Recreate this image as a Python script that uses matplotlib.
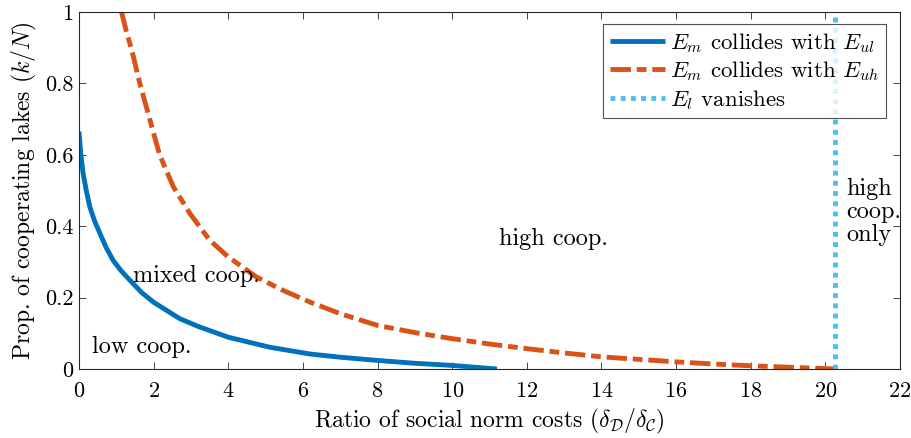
"""Plot cooperation regimes against the ratio of social norm costs."""

import matplotlib
matplotlib.use('Agg')
import matplotlib.pyplot as plt

# boundary where E_m collides with E_ul
ratio_ul = [0, 0.05, 0.11, 0.2, 0.29, 0.42, 0.56, 0.72, 0.91, 1.13, 1.37,
            1.68, 2, 2.7, 3.2, 4, 5.11, 6.19, 7, 8, 9, 10, 10.6, 11.2]
prop_ul = [0.665, 0.6, 0.548, 0.497, 0.454, 0.414, 0.38, 0.342, 0.305,
           0.275, 0.248, 0.214, 0.187, 0.141, 0.119, 0.089, 0.061, 0.042,
           0.033, 0.024, 0.016, 0.01, 0.005, 0.0]

# boundary where E_m collides with E_uh
ratio_uh = [1.14, 1.27, 1.41, 1.63, 1.9, 2.16, 2.53, 2.97, 3.5, 4, 4.75,
            5.47, 6.2, 7, 8, 9, 10, 11, 12, 13, 14, 15, 16, 17, 18, 19,
            20.27]
prop_uh = [1.0, 0.945, 0.895, 0.8, 0.698, 0.6, 0.51, 0.436, 0.361, 0.314,
           0.258, 0.22, 0.187, 0.155, 0.122, 0.102, 0.085, 0.07, 0.057,
           0.045, 0.034, 0.027, 0.02, 0.014, 0.009, 0.005, 0.0]

# ratio above which E_l vanishes
ratio_l = 20.25

xticks = list(range(0, 23, 2))
yticks = [0, 0.2, 0.4, 0.6, 0.8, 1]
ytick_labels = ['0', '0.2', '0.4', '0.6', '0.8', '1']


def main():
    """Main program called during execution."""

    plt.rcParams.update({
        'font.family': 'serif',
        'font.serif': ['cmr10'],
        'mathtext.fontset': 'cm',
        'axes.formatter.use_mathtext': True,
        'font.size': 16})

    # initialize figure
    fig = plt.figure(figsize=(9.12, 4.38), dpi=100)
    ax = fig.add_axes([79/912, 69/438, 821/912, 357/438])
    axcolor = '#262626'

    # plot boundaries
    ax.plot(ratio_ul, prop_ul, color='#0072BD', lw=3.5,
            solid_capstyle='butt', solid_joinstyle='round',
            label=r'$E_m$ collides with $E_{ul}$')
    ax.plot(ratio_uh, prop_uh, color='#D95319', lw=3.5,
            dashes=(4.2, 1.2, 2.0, 1.2), dash_capstyle='butt',
            dash_joinstyle='round',
            label=r'$E_m$ collides with $E_{uh}$')
    ax.plot([ratio_l, ratio_l], [0, 1], color='#4DBEEE', lw=3.5,
            dashes=(1, 1.1), dash_capstyle='butt',
            label=r'$E_l$ vanishes')

    # label regions
    textkw = dict(fontsize=17.5, va='center')
    ax.text(0.35, 0.062, 'low coop.', **textkw)
    ax.text(1.45, 0.262, 'mixed coop.', **textkw)
    ax.text(11.25, 0.365, 'high coop.', **textkw)
    ax.text(20.55, 0.44, 'high\ncoop.\nonly', linespacing=1.05, **textkw)

    # set axes properties
    ax.set_xlim(0, 22)
    ax.set_ylim(0, 1)
    ax.set_xticks(xticks)
    ax.set_yticks(yticks)
    ax.set_yticklabels(ytick_labels)
    ax.tick_params(direction='in', top=True, right=True, length=5,
                   width=0.6, color=axcolor, labelsize=16)
    ax.tick_params(axis='x', pad=9)
    ax.tick_params(axis='y', pad=4)
    for spine in ax.spines.values():
        spine.set_color(axcolor)
        spine.set_linewidth(0.8)
    ax.set_xlabel(r'Ratio of social norm costs '
                  r'$(\delta_\mathcal{D}/\delta_\mathcal{C})$', fontsize=17,
                  labelpad=4)
    ax.set_ylabel(r'Prop. of cooperating lakes $(k/N)$', fontsize=17,
                  labelpad=4)

    # add legend
    leg = ax.legend(loc='upper right', bbox_to_anchor=(0.9835, 0.967),
                    fontsize=16.5, frameon=True, fancybox=False,
                    borderaxespad=0, handlelength=2.4, handletextpad=0.25,
                    labelspacing=0.2, borderpad=0.3)
    leg.get_frame().set_edgecolor(axcolor)
    leg.get_frame().set_linewidth(0.8)

    # save figure
    fig.savefig('out.png', dpi=100)


if __name__ == '__main__':
    main()
